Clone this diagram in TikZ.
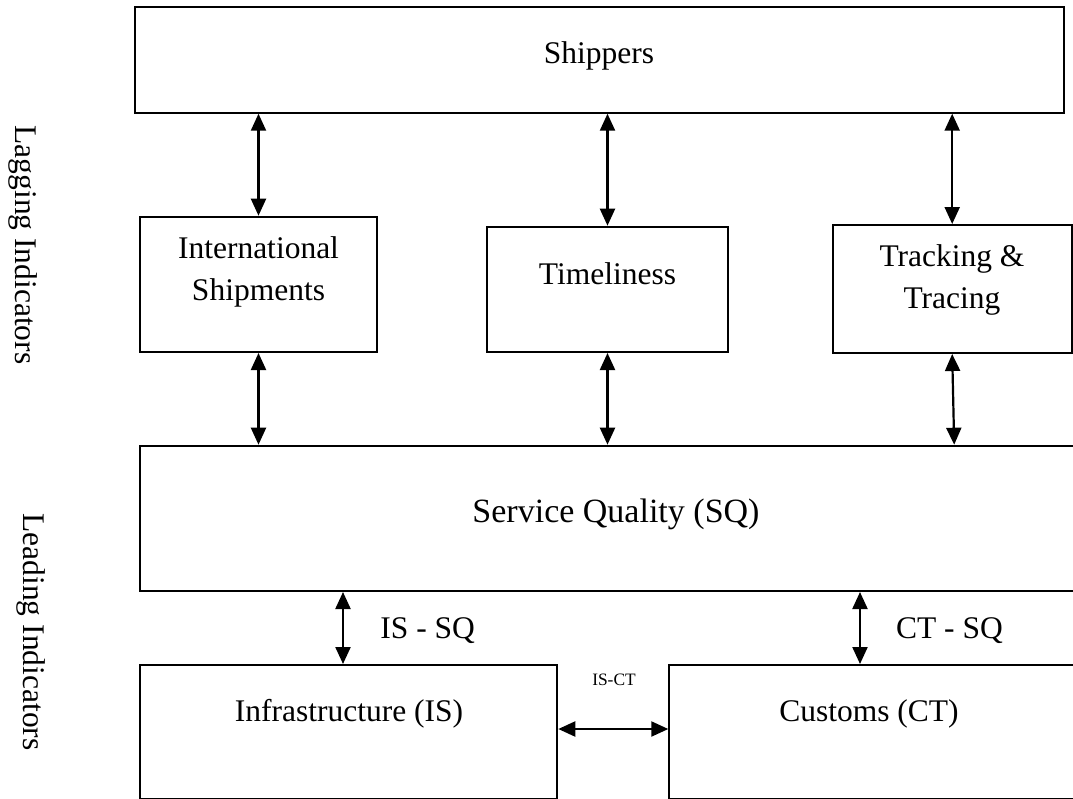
\documentclass[tikz,border=0pt]{standalone}
\usepackage{fontspec}
\setmainfont{Liberation Serif}
\usetikzlibrary{arrows.meta,fit}
\begin{document}
\begin{tikzpicture}[x=0.5pt,y=-0.5pt,
  box/.style={draw,line width=1pt,inner sep=0pt},
  lbl/.style={font=\fontsize{15.75}{21}\selectfont,inner sep=0pt,anchor=base,align=center},
  small/.style={font=\fontsize{8.7}{10}\selectfont,inner sep=0pt,anchor=base},
  side/.style={font=\fontsize{15.75}{21}\selectfont,inner sep=0pt,rotate=-90},
  dbl/.style={line width=1.1pt,{Triangle[width=7.5pt,length=8.5pt]}-{Triangle[width=7.5pt,length=8.5pt]}}]
\clip (0,0) rectangle (1073,799);
% boxes
\node[box,fit={(134.7,6.7) (1064,112.7)}] (ship) {};
\node[box,fit={(140,216.7) (377,352)}] (intl) {};
\node[box,fit={(487.3,226.7) (727.7,352)}] (time) {};
\node[box,fit={(832.7,225) (1071.7,353)}] (track) {};
\node[box,fit={(140,445.7) (1090,591)}] (sq) {};
\node[box,fit={(140,665) (557.3,798.5)}] (is) {};
\node[box,fit={(669.3,665) (1090,798.5)}] (ct) {};
% texts
\node[lbl] (tship) at (599,63.3) {Shippers};
\node[lbl] (tintl) at (258.5,300) {International\\Shipments};
\node[lbl] (ttime) at (607.5,284) {Timeliness};
\node[lbl] (ttrack) at (952,308) {Tracking \&\\Tracing};
\node[lbl,font=\fontsize{17}{21}\selectfont] (tsq) at (616,522) {Service Quality (SQ)};
\node[lbl] (tis) at (349,721.7) {Infrastructure (IS)};
\node[lbl] (tct) at (869,721.7) {Customs (CT)};
\node[lbl,anchor=base west] (lissq) at (380,638) {IS - SQ};
\node[lbl,anchor=base west] (lctsq) at (895.7,638) {CT - SQ};
\node[small] (lisct) at (614,685) {IS-CT};
\node[side] (lag) at (23.5,245) {Lagging Indicators};
\node[side] (lead) at (31,632) {Leading Indicators};
% connectors
\coordinate (isx) at (343,0);
\coordinate (ctx) at (860,0);
\coordinate (hy) at (0,729);
\draw[dbl] (intl.north) -- (intl.north |- ship.south);
\draw[dbl] (time.north) -- (time.north |- ship.south);
\draw[dbl] (track.north) -- (track.north |- ship.south);
\draw[dbl] (intl.south) -- (intl.south |- sq.north);
\draw[dbl] (time.south) -- (time.south |- sq.north);
\draw[dbl] (track.south) -- ([xshift=1pt]track.south |- sq.north);
\draw[dbl] (sq.south -| isx) -- (is.north -| isx);
\draw[dbl] (sq.south -| ctx) -- (ct.north -| ctx);
\draw[dbl] (is.east |- hy) -- (ct.west |- hy);
\end{tikzpicture}
\end{document}
